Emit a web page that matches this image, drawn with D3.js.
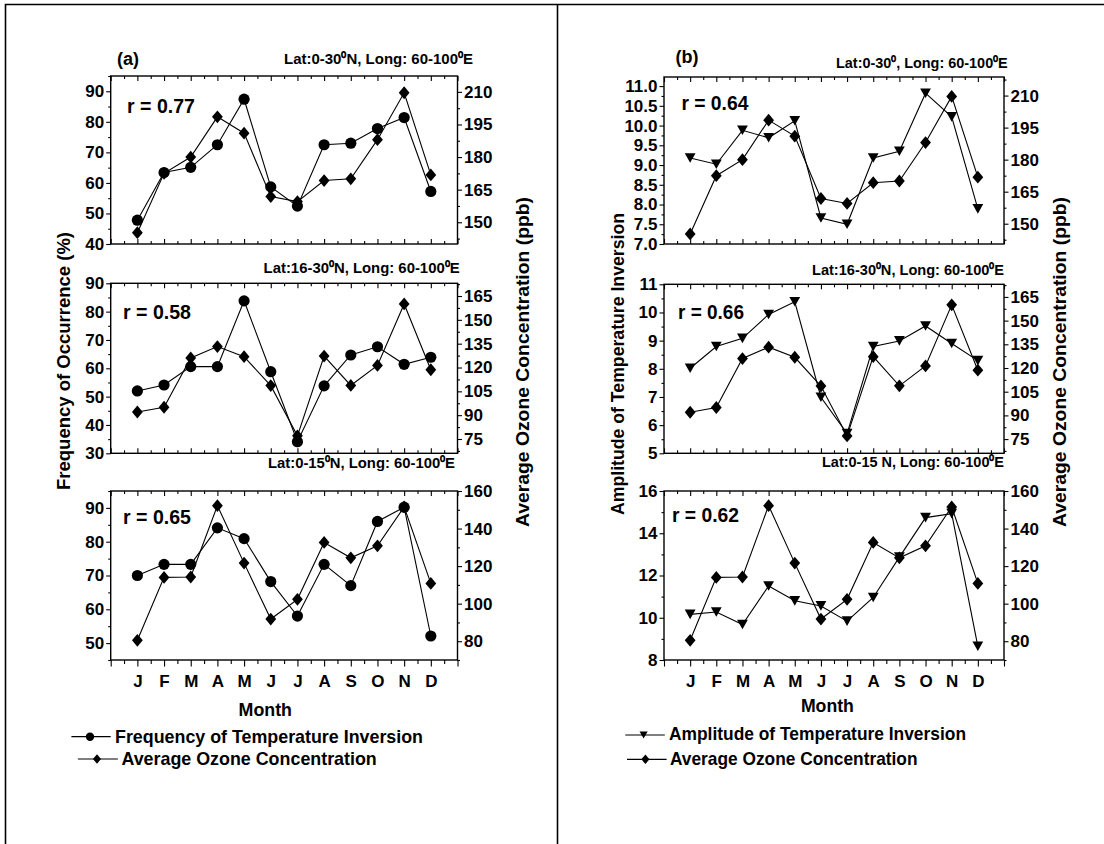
<!DOCTYPE html>
<html><head><meta charset="utf-8">
<script src="https://cdn.jsdelivr.net/npm/d3@7"></script>
<style>
body{margin:0;background:#fff;}
svg{display:block;}
text{font-family:"Liberation Sans",Arial,Helvetica,sans-serif;font-weight:bold;fill:#000;}
</style></head><body>
<svg id="chart" width="1104" height="844"></svg>
<script>
// ---------------- DATA ----------------
const months = ["J","F","M","A","M","J","J","A","S","O","N","D"];

// Panel (a): frequency of occurrence of temperature inversion (%)
const freqLat0to30  = [47.8, 63.4, 65.1, 72.5, 87.4, 58.7, 52.4, 72.5, 73.0, 77.8, 81.4, 57.2];
const freqLat16to30 = [52.0, 54.1, 60.6, 60.6, 83.8, 58.8, 34.1, 53.8, 64.7, 67.6, 61.4, 63.9];
const freqLat0to15  = [70.0, 73.3, 73.3, 84.1, 80.9, 68.2, 58.0, 73.3, 67.0, 86.0, 90.2, 52.1];

// Panel (b): amplitude of temperature inversion
const ampLat0to30  = [9.18, 9.02, 9.88, 9.69, 10.12, 7.66, 7.50, 9.18, 9.35, 10.82, 10.22, 7.89];
const ampLat16to30 = [8.02, 8.79, 9.08, 9.93, 10.38, 6.99, 5.70, 8.79, 8.99, 9.52, 8.90, 8.29];
const ampLat0to15  = [10.16, 10.27, 9.68, 11.50, 10.80, 10.56, 9.84, 10.96, 12.87, 14.74, 14.93, 8.65];

// Average ozone concentration (ppb)
const ozoneLat0to30  = [145.2, 172.5, 180.0, 198.5, 191.0, 161.8, 159.5, 169.2, 170.0, 188.0, 209.6, 171.8];
const ozoneLat16to30 = [92.0, 95.0, 126.0, 133.2, 126.8, 108.6, 77.0, 127.2, 108.7, 121.3, 160.0, 118.6];
const ozoneLat0to15  = [80.5, 114.0, 114.2, 152.2, 121.6, 91.8, 102.3, 132.6, 124.4, 130.8, 151.5, 110.8];

// Tick labels
const ticksFreq0to30  = [40, 50, 60, 70, 80, 90];
const ticksFreq16to30 = [30, 40, 50, 60, 70, 80, 90];
const ticksFreq0to15  = [50, 60, 70, 80, 90];
const ticksAmp0to30   = [7.0, 7.5, 8.0, 8.5, 9.0, 9.5, 10.0, 10.5, 11.0];
const ticksAmp16to30  = [5, 6, 7, 8, 9, 10, 11];
const ticksAmp0to15   = [8, 10, 12, 14, 16];
const ticksOzone0to30  = [150, 165, 180, 195, 210];
const ticksOzone16to30 = [75, 90, 105, 120, 135, 150, 165];
const ticksOzone0to15  = [80, 100, 120, 140, 160];

const rLabelsA = ["r = 0.77", "r = 0.58", "r = 0.65"];
const rLabelsB = ["r = 0.64", "r = 0.66", "r = 0.62"];
const regionTitlesA = ["Lat:0-30\u2070N, Long: 60-100\u2070E", "Lat:16-30\u2070N, Long: 60-100\u2070E", "Lat:0-15\u2070N, Long: 60-100\u2070E"];
const regionTitlesB = ["Lat:0-30\u2070, Long: 60-100\u2070E", "Lat:16-30\u2070N, Long: 60-100\u2070E", "Lat:0-15 N, Long: 60-100\u2070E"];
const legendA = ["Frequency of Temperature Inversion", "Average Ozone Concentration"];
const legendB = ["Amplitude of Temperature Inversion", "Average Ozone Concentration"];
const axisTitles = {
  aLeft: "Frequency of Occurrence (%)",
  bLeft: "Amplitude of Temperature Inversion",
  right: "Average Ozone Concentration (ppb)",
  x: "Month"
};

// ---------------- LAYOUT ----------------
const svg = d3.select("#chart");
const FONT = 17;

const panels = [
  { key:"a", label:"(a)", labelPos:[117,65], x0:110.7, x1:457.5, marker:"circle",
    leftTitle:axisTitles.aLeft, leftTitlePos:[70,361,258,18.5], rightTitlePos:[529,362,330,18.5],
    monthPos:[238.6,715.7,53.4], legend:legendA,
    legendPos:[{x0:71.4,x1:110.7,mx:90,y:736.7,tx:115,ty:743,tl:308},{x0:77.9,x1:117.9,mx:97,y:759,tx:121.4,ty:765,tl:255.4}],
    rows:[
      {y0:76, y1:244, left:[40,95], right:[140,217.3], lt:ticksFreq0to30, rt:ticksOzone0to30, fmt:d3.format("d"),
       series:freqLat0to30, ozone:ozoneLat0to30, r:rLabelsA[0], rPos:[127,113.3,68], title:regionTitlesA[0], tPos:[284,64.3,189]},
      {y0:283.3, y1:453.3, left:[30,90], right:[66,173], lt:ticksFreq16to30, rt:ticksOzone16to30, fmt:d3.format("d"),
       series:freqLat16to30, ozone:ozoneLat16to30, r:rLabelsA[1], rPos:[123,319,68], title:regionTitlesA[1], tPos:[263.6,273.3,196]},
      {y0:491, y1:660, left:[45,95], right:[70,160], lt:ticksFreq0to15, rt:ticksOzone0to15, fmt:d3.format("d"),
       series:freqLat0to15, ozone:ozoneLat0to15, r:rLabelsA[2], rPos:[123,524,68], title:regionTitlesA[2], tPos:[268,468.3,187]}
    ]},
  { key:"b", label:"(b)", labelPos:[675.4,63.3], x0:664, x1:1004, marker:"triangle",
    leftTitle:axisTitles.bLeft, leftTitlePos:[624,364,302,17.5], rightTitlePos:[1066,362,330,18.5],
    monthPos:[800.9,711.7,53], legend:legendB,
    legendPos:[{x0:625.3,x1:664.8,mx:643.6,y:735,tx:669,ty:740,tl:297},{x0:627,x1:666.6,mx:645.4,y:759.3,tx:670,ty:765,tl:247.5}],
    rows:[
      {y0:77, y1:244, left:[7,11.23], right:[140.5,218.7], lt:ticksAmp0to30, rt:ticksOzone0to30, fmt:d3.format(".1f"),
       series:ampLat0to30, ozone:ozoneLat0to30, r:rLabelsB[0], rPos:[681.4,110,67], title:regionTitlesB[0], tPos:[836,68.3,171.6]},
      {y0:284.3, y1:453.3, left:[5,11], right:[66,173], lt:ticksAmp16to30, rt:ticksOzone16to30, fmt:d3.format("d"),
       series:ampLat16to30, ozone:ozoneLat16to30, r:rLabelsB[1], rPos:[678,319,66], title:regionTitlesB[1], tPos:[812,275,192]},
      {y0:491, y1:660, left:[8,16], right:[70,160], lt:ticksAmp0to15, rt:ticksOzone0to15, fmt:d3.format("d"),
       series:ampLat0to15, ozone:ozoneLat0to15, r:rLabelsB[2], rPos:[672,521.7,67], title:regionTitlesB[2], tPos:[822,466.7,182]}
    ]}
];

// outer frame and divider
svg.append("path").attr("d","M5.5,844 V4.5 H1104 M557.5,4.5 V844")
  .attr("fill","none").attr("stroke","#000").attr("stroke-width",1.6);

function minorOf(major, domain){
  const step = major[1]-major[0];
  const out = [];
  for(let v = major[0]-step/2; v <= domain[1]+1e-9; v += step){
    if(v >= domain[0]-1e-9) out.push(+v.toFixed(4));
  }
  return out;
}

function symbol(g, type, cx, cy, s){
  if(type==="circle"){
    g.append("circle").attr("cx",cx).attr("cy",cy).attr("r",5.6*s).attr("fill","#000");
  } else if(type==="diamond"){
    const w=5.4*s, h=6.4*s;
    g.append("path").attr("d",`M${cx},${cy-h}L${cx+w},${cy}L${cx},${cy+h}L${cx-w},${cy}Z`).attr("fill","#000");
  } else {
    const w=5.4*s, h=4.8*s;
    g.append("path").attr("d",`M${cx-w},${cy-h}L${cx+w},${cy-h}L${cx},${cy+h}Z`).attr("fill","#000");
  }
}

panels.forEach(P=>{
  const g = svg.append("g");
  const x = d3.scaleLinear().domain([0,13]).range([P.x0,P.x1]);
  const xMajor = d3.range(0,14);
  const xMinor = d3.range(0.5,13,1);

  g.append("text").attr("x",P.labelPos[0]).attr("y",P.labelPos[1]).attr("font-size",18).text(P.label);

  P.rows.forEach((R,ri)=>{
    const yL = d3.scaleLinear().domain(R.left).range([R.y1,R.y0]);
    const yR = d3.scaleLinear().domain(R.right).range([R.y1,R.y0]);
    const rg = g.append("g");
    const last = ri===P.rows.length-1;

    // axes
    rg.append("g").attr("transform",`translate(${P.x0},0)`)
      .call(d3.axisLeft(yL).tickValues(R.lt).tickSize(4.5).tickPadding(2).tickFormat(R.fmt));
    rg.append("g").attr("transform",`translate(${P.x0},0)`)
      .call(d3.axisLeft(yL).tickValues(minorOf(R.lt,R.left)).tickSize(2.5).tickFormat(""));
    rg.append("g").attr("transform",`translate(${P.x1},0)`)
      .call(d3.axisRight(yR).tickValues(R.rt).tickSize(4.5).tickPadding(2).tickFormat(d3.format("d")));
    rg.append("g").attr("transform",`translate(${P.x1},0)`)
      .call(d3.axisRight(yR).tickValues(minorOf(R.rt,R.right)).tickSize(2.5).tickFormat(""));
    rg.append("g").attr("transform",`translate(0,${R.y0})`)
      .call(d3.axisTop(x).tickValues(xMajor).tickSize(-5).tickFormat(""));
    rg.append("g").attr("transform",`translate(0,${R.y0})`)
      .call(d3.axisTop(x).tickValues(xMinor).tickSize(-3).tickFormat(""));
    if(!last){
      rg.append("g").attr("transform",`translate(0,${R.y1})`)
        .call(d3.axisBottom(x).tickValues(xMajor).tickSize(-5).tickFormat(""));
      rg.append("g").attr("transform",`translate(0,${R.y1})`)
        .call(d3.axisBottom(x).tickValues(xMinor).tickSize(-3).tickFormat(""));
    } else {
      const bx = rg.append("g").attr("transform",`translate(0,${R.y1})`)
        .call(d3.axisBottom(x).tickValues(xMajor).tickSize(6.5).tickFormat(d=> (d>=1&&d<=12)? months[d-1] : ""));
      bx.selectAll("text").attr("y",26.7).attr("dy",0).attr("font-size",FONT);
      rg.append("g").attr("transform",`translate(0,${R.y1})`)
        .call(d3.axisBottom(x).tickValues(xMinor).tickSize(4).tickFormat(""));
    }
    rg.selectAll(".domain").remove();
    rg.selectAll(".tick line").attr("stroke","#000").attr("stroke-width",1.1);
    rg.selectAll(".tick text").attr("font-size",FONT).attr("fill","#000")
      .style("font-family","'Liberation Sans',Arial,sans-serif").style("font-weight","bold");

    // frame
    rg.append("rect").attr("x",P.x0).attr("y",R.y0).attr("width",P.x1-P.x0).attr("height",R.y1-R.y0)
      .attr("fill","none").attr("stroke","#000").attr("stroke-width",1.4);

    // lines
    const lineL = d3.line().x((d,i)=>x(i+1)).y(d=>yL(d));
    const lineR = d3.line().x((d,i)=>x(i+1)).y(d=>yR(d));
    rg.append("path").attr("d",lineR(R.ozone)).attr("fill","none").attr("stroke","#000").attr("stroke-width",1.1);
    rg.append("path").attr("d",lineL(R.series)).attr("fill","none").attr("stroke","#000").attr("stroke-width",1.1);
    R.ozone.forEach((v,i)=>symbol(rg,"diamond",x(i+1),yR(v),1));
    R.series.forEach((v,i)=>symbol(rg,P.marker,x(i+1),yL(v),1));

    // r label and region title
    rg.append("text").attr("x",R.rPos[0]).attr("y",R.rPos[1]).attr("font-size",21)
      .attr("textLength",R.rPos[2]).attr("lengthAdjust","spacingAndGlyphs").text(R.r);
    rg.append("text").attr("x",R.tPos[0]).attr("y",R.tPos[1]).attr("font-size",15)
      .attr("textLength",R.tPos[2]).attr("lengthAdjust","spacingAndGlyphs").text(R.title);
  });

  // axis titles
  const lt = P.leftTitlePos;
  g.append("text").attr("transform",`translate(${lt[0]},${lt[1]}) rotate(-90)`).attr("text-anchor","middle")
    .attr("font-size",lt[3]).attr("textLength",lt[2]).attr("lengthAdjust","spacingAndGlyphs").text(P.leftTitle);
  const rt = P.rightTitlePos;
  g.append("text").attr("transform",`translate(${rt[0]},${rt[1]}) rotate(-90)`).attr("text-anchor","middle")
    .attr("font-size",rt[3]).attr("textLength",rt[2]).attr("lengthAdjust","spacingAndGlyphs").text(axisTitles.right);
  g.append("text").attr("x",P.monthPos[0]).attr("y",P.monthPos[1]).attr("font-size",18)
    .attr("textLength",P.monthPos[2]).attr("lengthAdjust","spacingAndGlyphs").text(axisTitles.x);

  // legend
  P.legendPos.forEach((L,i)=>{
    g.append("line").attr("x1",L.x0).attr("x2",L.x1).attr("y1",L.y).attr("y2",L.y).attr("stroke","#000").attr("stroke-width",1.2);
    symbol(g, i===0? P.marker : "diamond", L.mx, L.y, 0.75);
    g.append("text").attr("x",L.tx).attr("y",L.ty).attr("font-size",19)
      .attr("textLength",L.tl).attr("lengthAdjust","spacingAndGlyphs").text(P.legend[i]);
  });
});
</script>
</body></html>
